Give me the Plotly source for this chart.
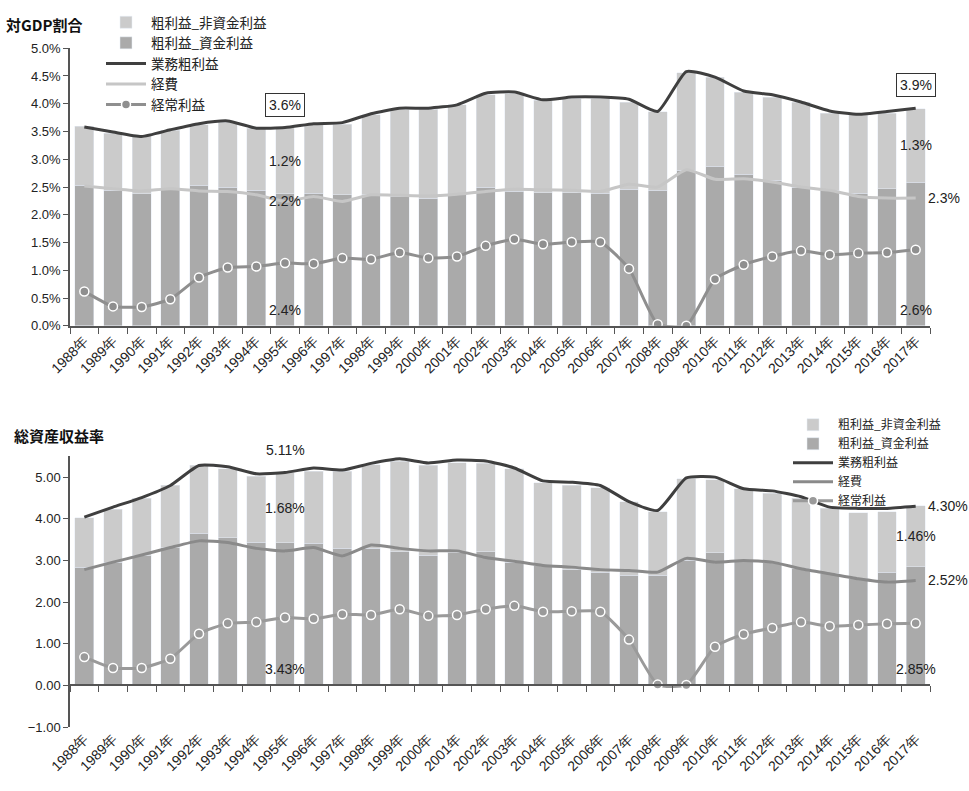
import plotly.graph_objects as go

years = [f"{y}年" for y in range(1988, 2018)]

# ---- 対GDP割合 (%) ----
gdp_fund = [2.53, 2.44, 2.38, 2.46, 2.53, 2.50, 2.44, 2.38, 2.39, 2.36,
            2.36, 2.33, 2.30, 2.36, 2.50, 2.42, 2.40, 2.40, 2.39, 2.46,
            2.44, 2.80, 2.87, 2.73, 2.62, 2.50, 2.44, 2.39, 2.47, 2.59]
gdp_nonfund = [1.06, 1.03, 1.04, 1.06, 1.09, 1.17, 1.12, 1.19, 1.23, 1.27,
               1.44, 1.56, 1.60, 1.62, 1.66, 1.76, 1.66, 1.69, 1.70, 1.57,
               1.42, 1.76, 1.61, 1.48, 1.50, 1.53, 1.39, 1.41, 1.36, 1.32]
gdp_gross = [3.58, 3.49, 3.41, 3.53, 3.64, 3.69, 3.56, 3.57, 3.64, 3.66,
             3.82, 3.92, 3.92, 3.98, 4.19, 4.21, 4.07, 4.12, 4.12, 4.08,
             3.86, 4.58, 4.48, 4.23, 4.16, 4.03, 3.87, 3.81, 3.86, 3.92]
gdp_expense = [2.52, 2.47, 2.43, 2.47, 2.43, 2.42, 2.36, 2.24, 2.33, 2.24,
               2.36, 2.35, 2.34, 2.37, 2.42, 2.46, 2.45, 2.44, 2.42, 2.55,
               2.50, 2.81, 2.64, 2.65, 2.59, 2.50, 2.44, 2.33, 2.30, 2.30]
gdp_ordinary = [0.62, 0.35, 0.34, 0.48, 0.87, 1.05, 1.07, 1.13, 1.12, 1.22,
                1.20, 1.32, 1.22, 1.25, 1.44, 1.56, 1.47, 1.51, 1.51, 1.03,
                0.03, 0.00, 0.84, 1.10, 1.25, 1.35, 1.28, 1.31, 1.32, 1.37]

# ---- 総資産収益率 (%) ----
roa_fund = [2.84, 2.96, 3.11, 3.31, 3.65, 3.55, 3.44, 3.43, 3.41, 3.29,
            3.29, 3.21, 3.13, 3.19, 3.21, 2.96, 2.88, 2.78, 2.72, 2.64,
            2.64, 3.00, 3.19, 3.00, 2.96, 2.80, 2.68, 2.56, 2.72, 2.85]
roa_nonfund = [1.18, 1.27, 1.38, 1.49, 1.63, 1.65, 1.58, 1.68, 1.73, 1.85,
               2.01, 2.17, 2.15, 2.16, 2.12, 2.24, 1.98, 2.02, 2.03, 1.77,
               1.53, 1.96, 1.75, 1.72, 1.65, 1.69, 1.57, 1.59, 1.45, 1.46]
roa_gross = [4.04, 4.28, 4.51, 4.80, 5.28, 5.25, 5.08, 5.11, 5.22, 5.17,
             5.33, 5.44, 5.34, 5.41, 5.39, 5.22, 4.91, 4.88, 4.80, 4.41,
             4.20, 4.98, 5.00, 4.72, 4.67, 4.53, 4.28, 4.25, 4.25, 4.30]
roa_expense = [2.78, 2.96, 3.13, 3.31, 3.47, 3.43, 3.29, 3.23, 3.31, 3.11,
               3.37, 3.29, 3.23, 3.23, 3.07, 2.98, 2.88, 2.84, 2.78, 2.76,
               2.72, 3.05, 2.96, 3.00, 2.96, 2.80, 2.68, 2.56, 2.48, 2.52]
roa_ordinary = [0.68, 0.42, 0.42, 0.64, 1.24, 1.49, 1.52, 1.63, 1.60, 1.71,
                1.69, 1.83, 1.67, 1.69, 1.83, 1.91, 1.77, 1.78, 1.77, 1.10,
                0.02, 0.01, 0.93, 1.23, 1.38, 1.52, 1.42, 1.45, 1.48, 1.49]

NAMES = ["粗利益_非資金利益", "粗利益_資金利益", "業務粗利益", "経費", "経常利益"]

C_NONFUND = "#cbcbcb"
C_FUND = "#aaaaaa"
C_GROSS = "#3f3f3f"
C_ORD = "#8f8f8f"

NUM_FONT = "Liberation Sans, Arial, sans-serif"
JP_FONT = "Noto Sans CJK JP, Noto Sans CJK SC, sans-serif"

fig = go.Figure()


def add_panel(xa, ya, legend, fund, nonfund, gross, expense, ordinary, exp_color, ord_color):
    fig.add_bar(x=years, y=fund, name=NAMES[1], marker_color=C_FUND,
                xaxis=xa, yaxis=ya, legend=legend, legendrank=2)
    fig.add_bar(x=years, y=nonfund, name=NAMES[0], marker_color=C_NONFUND,
                xaxis=xa, yaxis=ya, legend=legend, legendrank=1)
    fig.add_scatter(x=years, y=gross, name=NAMES[2], mode="lines",
                    line=dict(color=C_GROSS, width=3, shape="spline", smoothing=0.5),
                    xaxis=xa, yaxis=ya, legend=legend, legendrank=3)
    fig.add_scatter(x=years, y=expense, name=NAMES[3], mode="lines",
                    line=dict(color=exp_color, width=3, shape="spline", smoothing=0.5),
                    xaxis=xa, yaxis=ya, legend=legend, legendrank=4)
    fig.add_scatter(x=years, y=ordinary, name=NAMES[4], mode="lines+markers",
                    line=dict(color=ord_color, width=3, shape="spline", smoothing=0.5),
                    marker=dict(symbol="circle", size=9, color=ord_color,
                                line=dict(color="white", width=1.5)),
                    xaxis=xa, yaxis=ya, legend=legend, legendrank=5)


add_panel("x", "y", "legend", gdp_fund, gdp_nonfund, gdp_gross, gdp_expense,
          gdp_ordinary, "#c6c6c6", C_ORD)
add_panel("x2", "y2", "legend2", roa_fund, roa_nonfund, roa_gross, roa_expense,
          roa_ordinary, "#8a8a8a", "#9a9a9a")

# carrier trace for the category axis drawn along the 0% level of the lower panel
fig.add_scatter(x=years, y=[0] * len(years), mode="none", showlegend=False,
                hoverinfo="skip", xaxis="x3", yaxis="y2")

H = 791
TOP_DOM = [1 - 325 / H, 1 - 42 / H]
BOT_DOM = [1 - 734 / H, 1 - 458 / H]
BOT_RANGE = [-1, 5.5]
zero_pos = BOT_DOM[0] + (0 - BOT_RANGE[0]) / (BOT_RANGE[1] - BOT_RANGE[0]) * (BOT_DOM[1] - BOT_DOM[0])

axis_col = "#555555"
cat_range = [-0.5, len(years) - 0.5]
ytick_font = dict(family=NUM_FONT, size=13, color="#222222")
xtick_font = dict(family=NUM_FONT, size=14, color="#222222")

fig.update_layout(
    width=969, height=791,
    margin=dict(l=70, r=39, t=0, b=0),
    paper_bgcolor="white", plot_bgcolor="white",
    barmode="stack", bargap=0.34,
    showlegend=True,
    font=dict(family=JP_FONT, color="#222222"),
    xaxis=dict(domain=[0, 1], anchor="y", type="category", range=cat_range,
               tickson="boundaries", ticks="outside", ticklen=6, tickcolor=axis_col,
               showline=True, linecolor=axis_col, linewidth=1.5, showgrid=False,
               tickangle=-45, tickfont=xtick_font),
    yaxis=dict(domain=TOP_DOM, anchor="x", range=[0, 5], dtick=0.5,
               tickformat=".1f", ticksuffix="%", ticks="outside", ticklen=5,
               tickcolor=axis_col, showline=True, linecolor=axis_col, linewidth=1.5,
               showgrid=False, zeroline=False, tickfont=ytick_font),
    xaxis2=dict(domain=[0, 1], anchor="y2", type="category", range=cat_range,
                showline=False, ticks="", showgrid=False, tickangle=-45,
                tickfont=xtick_font),
    xaxis3=dict(domain=[0, 1], overlaying="x2", anchor="free", position=zero_pos,
                type="category", range=cat_range, tickson="boundaries",
                ticks="outside", ticklen=6, tickcolor=axis_col, showline=True,
                linecolor=axis_col, linewidth=1.5, showgrid=False,
                showticklabels=False),
    yaxis2=dict(domain=BOT_DOM, anchor="x2", range=BOT_RANGE,
                tickvals=[-1, 0, 1, 2, 3, 4, 5], tickformat=".2f", ticksuffix="%",
                ticks="outside", ticklen=5, tickcolor=axis_col, showline=True,
                linecolor=axis_col, linewidth=1.5, showgrid=False, zeroline=False,
                tickfont=ytick_font),
    legend=dict(x=(101 - 70) / 860, y=1.0, xanchor="left", yanchor="top",
                traceorder="normal", bgcolor="rgba(0,0,0,0)", itemwidth=40,
                tracegroupgap=0, font=dict(family=JP_FONT, size=13.5)),
    legend2=dict(x=(788 - 70) / 860, y=1 - 411 / H, xanchor="left", yanchor="top",
                 traceorder="normal", bgcolor="rgba(0,0,0,0)", itemwidth=40,
                 tracegroupgap=0, font=dict(family=JP_FONT, size=12)),
)

# panel titles
fig.add_annotation(text="<b>対GDP割合</b>", xref="paper", yref="paper",
                   x=(4 - 70) / 860, y=1 - 18 / H, xanchor="left", yanchor="middle",
                   showarrow=False, font=dict(family=JP_FONT, size=15, color="#111111"))
fig.add_annotation(text="<b>総資産収益率</b>", xref="paper", yref="paper",
                   x=(12 - 70) / 860, y=1 - 437 / H, xanchor="left", yanchor="middle",
                   showarrow=False, font=dict(family=JP_FONT, size=15, color="#111111"))

lab_font = dict(family=NUM_FONT, size=14, color="#222222")


def value_labels(xa, ya, i, fund, nonfund, gross, expense, fmt, boxed,
                 right_side, show_expense):
    yr = years[i]
    txt = lambda v: format(v, fmt) + "%"
    box = dict(bordercolor="#333333", borderwidth=1, borderpad=3, bgcolor="white") if boxed else {}
    # 業務粗利益
    if right_side:
        fig.add_annotation(x=yr, y=gross[i], xref=xa, yref=ya, text=txt(gross[i]),
                           showarrow=False, xanchor="left", xshift=10, font=lab_font)
    else:
        fig.add_annotation(x=yr, y=gross[i], xref=xa, yref=ya, text=txt(gross[i]),
                           showarrow=False, yshift=23, font=lab_font, **box)
    # 非資金利益 (middle of the upper segment)
    fig.add_annotation(x=yr, y=fund[i] + nonfund[i] / 2, xref=xa, yref=ya,
                       text=txt(nonfund[i]), showarrow=False, font=lab_font)
    # 経費
    if show_expense:
        if i == len(years) - 1:
            fig.add_annotation(x=yr, y=expense[i], xref=xa, yref=ya, text=txt(expense[i]),
                               showarrow=False, xanchor="left", xshift=10, font=lab_font)
        else:
            fig.add_annotation(x=yr, y=expense[i], xref=xa, yref=ya, text=txt(expense[i]),
                               showarrow=False, font=lab_font)
    # 資金利益 (bottom of the bar)
    fig.add_annotation(x=yr, y=0, xref=xa, yref=ya, text=txt(fund[i]),
                       showarrow=False, yanchor="bottom", yshift=6, font=lab_font)


i95 = years.index("1995年")
i17 = years.index("2017年")
value_labels("x", "y", i95, gdp_fund, gdp_nonfund, gdp_gross, gdp_expense, ".1f", True, False, True)
value_labels("x", "y", i17, gdp_fund, gdp_nonfund, gdp_gross, gdp_expense, ".1f", True, False, True)
value_labels("x2", "y2", i95, roa_fund, roa_nonfund, roa_gross, roa_expense, ".2f", False, False, False)
value_labels("x2", "y2", i17, roa_fund, roa_nonfund, roa_gross, roa_expense, ".2f", False, True, True)

fig.write_html("out.html")
